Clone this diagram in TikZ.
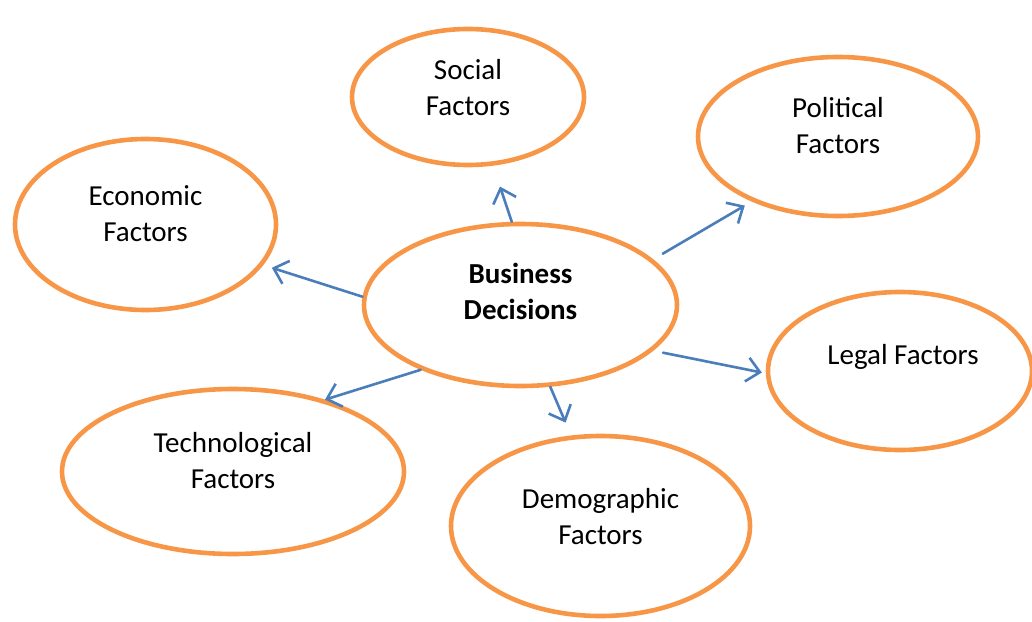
\documentclass[tikz,border=0pt]{standalone}
\usepackage{fontspec}
\setmainfont{Carlito}
\usetikzlibrary{arrows.meta,shapes.geometric}

\definecolor{ringorange}{HTML}{F79646}
\definecolor{arrowblue}{HTML}{4A7EBB}

\tikzset{
	factor/.style={ellipse, draw=ringorange, line width=4.6pt, inner sep=0pt},
	factortext/.style={align=center, font=\fontsize{29}{36}\selectfont},
	link/.style={-{Straight Barb[length=13pt,width=24pt]}, draw=arrowblue, line width=2.6pt}
}

\begin{document}
\begin{tikzpicture}[x=1pt, y=-1pt, line cap=round, line join=round]
		
		\useasboundingbox (0,0) rectangle (1032,621);
		
		% --- centre: the decision ---
		\node[factor, minimum width=313pt, minimum height=162pt] (biz) at (520.5,305) {};
		\node[factortext, font=\fontsize{29}{36}\selectfont\bfseries] (biztxt) at ([yshift=14pt]biz.center) {Business\\Decisions};
		
		% --- surrounding factors ---
		\node[factor, minimum width=232pt, minimum height=136pt] (social) at (468,97) {};
		\node[factortext] (socialtxt) at ([yshift=9pt]social.center) {Social\\Factors};
		
		\node[factor, minimum width=280pt, minimum height=159pt] (political) at (838,136.5) {};
		\node[factortext] (politicaltxt) at ([yshift=11pt]political.center) {Political\\Factors};
		
		\node[factor, minimum width=261pt, minimum height=171pt] (econ) at (145.5,224.5) {};
		\node[factortext] (econtxt) at ([yshift=11pt]econ.center) {Economic\\Factors};
		
		\node[factor, minimum width=264pt, minimum height=158pt] (legal) at (900,371) {};
		\node[factortext] (legaltxt) at ([xshift=3pt,yshift=14pt]legal.center) {Legal Factors};
		
		\node[factor, minimum width=342pt, minimum height=165pt] (tech) at (233,471.5) {};
		\node[factortext] (techtxt) at ([yshift=11pt]tech.center) {Technological\\Factors};
		
		\node[factor, minimum width=299pt, minimum height=180pt] (demo) at (600.5,526) {};
		\node[factortext] (demotxt) at ([yshift=9pt]demo.center) {Demographic\\Factors};
		
		% --- arrows out of the centre ---
		\draw[link, shorten >=22pt] (biz.96) -- (social.-70);
		\draw[link, shorten <=11pt, shorten >=8pt] (biz.19) -- (political.217);
		\draw[link, shorten >=9pt] (biz.177.5) -- (econ.-19);
		\draw[link, shorten <=10pt, shorten >=4pt] (biz.-19) -- (legal.181);
		\draw[link] (biz.213) -- (tech.38);
		\draw[link, shorten >=14pt] (biz.-70) -- (demo.108);
		
	\end{tikzpicture}
\end{document}
